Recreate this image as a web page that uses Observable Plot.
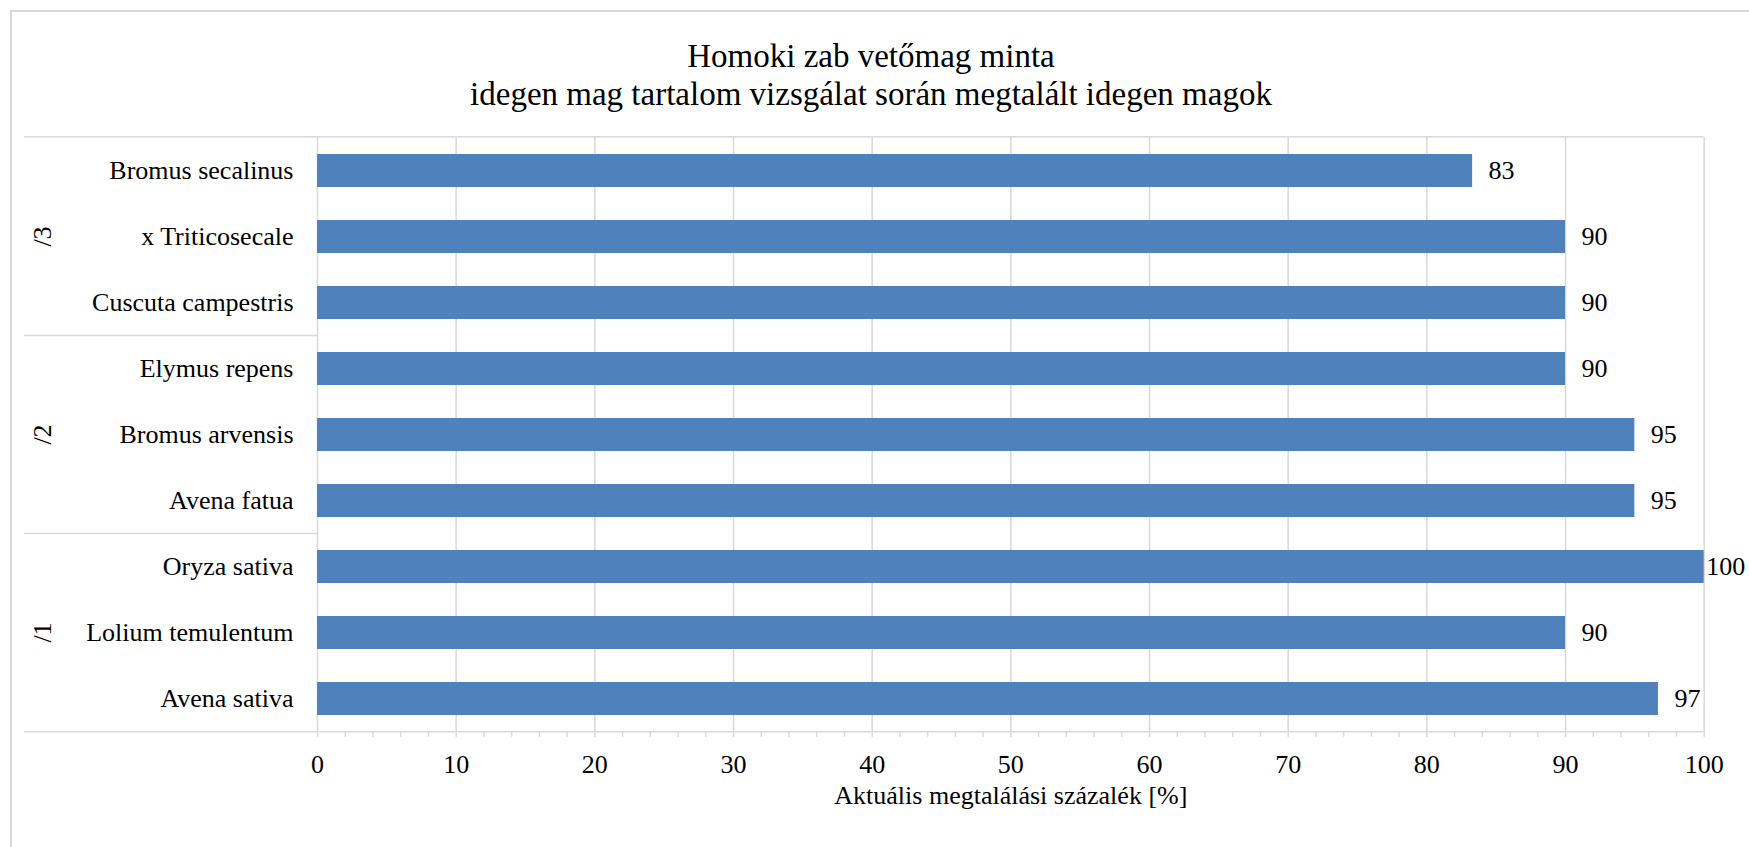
<!DOCTYPE html>
<html>
<head>
<meta charset="utf-8">
<script src="https://cdn.jsdelivr.net/npm/d3@7"></script>
<script src="https://cdn.jsdelivr.net/npm/@observablehq/plot@0.6"></script>
<style>
  body { margin: 0; background: #fff; overflow: hidden; font-family: "Liberation Serif", "Times New Roman", serif; }
  #frame { position: absolute; left: 10px; top: 10px; width: 1800px; height: 900px; border: 2px solid #d9d9d9; pointer-events: none; }
  #title { width: 1742px; height: 120px; box-sizing: border-box; padding-top: 37px; text-align: center; font-size: 33px; line-height: 38px; color: #000; }
  #chart svg { display: block; }
</style>
</head>
<body>
<div id="frame"></div>
<div id="title">Homoki zab vetőmag minta<br>idegen mag tartalom vizsgálat során megtalált idegen magok</div>
<div id="chart"></div>
<script>
// ---- data (top to bottom as drawn) ----
const groups  = ["/3", "/3", "/3", "/2", "/2", "/2", "/1", "/1", "/1"];
const species = ["Bromus secalinus", "x Triticosecale", "Cuscuta campestris",
                 "Elymus repens", "Bromus arvensis", "Avena fatua",
                 "Oryza sativa", "Lolium temulentum", "Avena sativa"];
const values  = [83.3, 90, 90, 90, 95, 95, 100, 90, 96.7];
const xTicks = [0, 10, 20, 30, 40, 50, 60, 70, 80, 90, 100];
const xMinorTicks = [0, 2, 4, 6, 8, 10, 12, 14, 16, 18, 20, 22, 24, 26, 28, 30, 32, 34, 36, 38, 40,
                     42, 44, 46, 48, 50, 52, 54, 56, 58, 60, 62, 64, 66, 68, 70, 72, 74, 76, 78, 80,
                     82, 84, 86, 88, 90, 92, 94, 96, 98, 100];
const xLabel = "Aktuális megtalálási százalék [%]";

const data = species.map((s, i) => ({species: s, group: groups[i], value: values[i]}));

const FONT = '"Liberation Serif", "Times New Roman", serif';
const GRID = "#d9d9d9";
const BAR = "#4f81bd";

const chart = Plot.plot({
  width: 1749,
  height: 727,
  marginTop: 16.7,
  marginBottom: 115.3,
  marginLeft: 317,
  marginRight: 45.3,
  style: {fontFamily: FONT, fontSize: "26px", color: "#000", background: "transparent", overflow: "visible"},
  x: {domain: [0, 100]},
  y: {domain: species, paddingInner: 0.5, paddingOuter: 0.25},
  marks: [
    Plot.ruleX(xTicks, {stroke: GRID, strokeWidth: 1.5}),
    Plot.barX(data, {x: "value", y: "species", fill: BAR}),
    Plot.axisX({ticks: xMinorTicks, tickSize: 5, stroke: GRID, strokeWidth: 1.5, fill: "none", label: null}),
    Plot.axisX({ticks: xTicks, tickSize: 0, tickPadding: 22.5, label: null, tickFormat: d => String(d), fill: "#000"}),
    Plot.axisY({tickSize: 0, tickPadding: 24, label: null, fill: "#000"}),
    Plot.text(data.filter(d => d.value < 100), {x: "value", y: "species", text: d => String(Math.round(d.value)), textAnchor: "start", dx: 16, fill: "#000"}),
    Plot.text(data.filter(d => d.value >= 100), {x: "value", y: "species", text: d => String(Math.round(d.value)), textAnchor: "start", dx: 2, fill: "#000"}),
    Plot.text([xLabel], {frameAnchor: "bottom", text: d => d, dy: 71.7, fill: "#000"})
  ]
});

document.getElementById("chart").appendChild(chart);

// ---- multi-level category axis decorations, positioned from Plot's scales ----
const sx = chart.scale("x");
const sy = chart.scale("y");
const svg = d3.select(chart);
const outerLeft = 24;
const [yTop, yBottom] = sy.range;
const xRight = sx.apply(100);
const gap = (sy.step - sy.bandwidth) / 2;
const deco = svg.append("g").attr("stroke", GRID).attr("stroke-width", 1.5);

deco.append("line").attr("x1", outerLeft).attr("x2", xRight).attr("y1", yTop).attr("y2", yTop);
deco.append("line").attr("x1", outerLeft).attr("x2", xRight).attr("y1", yBottom).attr("y2", yBottom);

for (let i = 1; i < species.length; i++) {
  if (groups[i] !== groups[i - 1]) {
    const yy = sy.apply(species[i]) - gap;
    deco.append("line").attr("x1", outerLeft).attr("x2", sx.apply(0)).attr("y1", yy).attr("y2", yy);
  }
}

const uniqueGroups = [...new Set(groups)];
for (const g of uniqueGroups) {
  const members = species.filter((s, i) => groups[i] === g);
  const cy = d3.mean(members, s => sy.apply(s) + sy.bandwidth / 2);
  svg.append("text")
    .attr("transform", `translate(43,${cy}) rotate(-90)`)
    .attr("text-anchor", "middle")
    .attr("dy", "0.32em")
    .attr("fill", "#000")
    .attr("font-size", 26)
    .attr("font-family", FONT)
    .text(g);
}
</script>
</body>
</html>
